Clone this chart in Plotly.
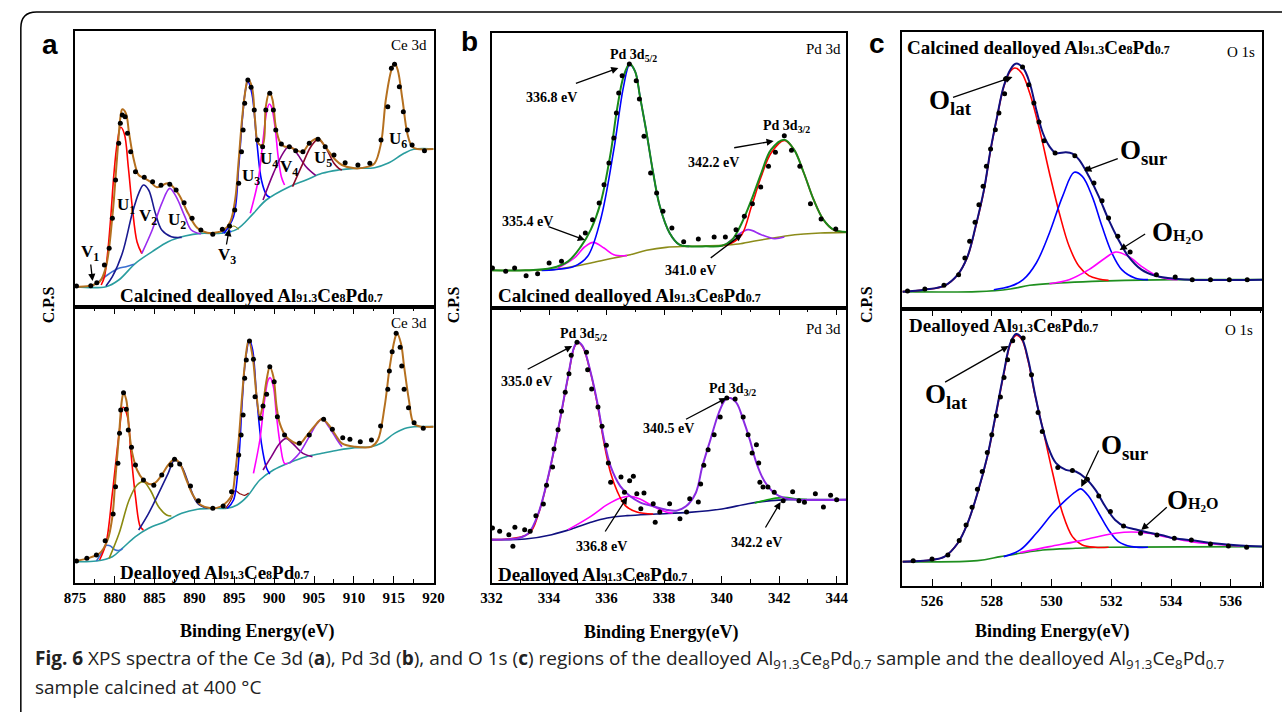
import plotly.graph_objects as go

W, H = 1282, 712
SERIF = "Liberation Serif, Times New Roman, serif"
SANS = "Liberation Sans, Arial, sans-serif"

# ================= DATA (binding energy eV, intensity a.u.) =================
# ---- Panel a, top: calcined dealloyed, Ce 3d ----
A1_DOTS = [(875.2,63),(877.0,64),(877.75,73),(878.7,126),(879.3,176),(879.7,266),(880.1,381),(880.5,491),
           (880.7,551),(880.95,576),(881.3,571),(881.6,521),(882.0,466),(882.6,406),(883.7,389),(884.75,376),
           (885.8,365),(886.9,368),(887.7,351),(888.7,313),(889.7,266),(890.8,231),(892.3,218),(893.5,233),
           (894.4,243),(895.05,291),(895.55,371),(895.9,466),(896.1,531),(896.3,611),(896.7,681),(897.1,659),
           (897.5,591),(897.9,501),(898.55,481),(898.95,591),(899.45,641),(899.9,591),(900.2,531),(900.9,489),
           (901.9,481),(902.7,469),(903.6,466),(904.4,491),(905.5,503),(906.4,481),(907.5,456),(908.9,433),
           (910.5,426),(912.0,431),(913.4,501),(914.25,601),(914.7,716),(915.1,728),(915.7,661),(916.2,586),
           (916.7,531),(917.3,486),(918.85,469)]
A1_ENV = [(875.0,61),(876.85,64),(878.1,76),(878.9,121),(879.7,271),(880.3,451),(880.75,576),(880.95,593),
          (881.4,581),(881.8,521),(882.4,441),(883.0,396),(883.6,388),(884.45,376),(885.3,359),(886.7,371),
          (887.95,341),(889.2,281),(890.4,236),(891.6,223),(892.9,224),(893.7,231),(894.5,256),(895.1,321),
          (895.55,441),(896.0,571),(896.4,651),(896.7,683),(897.2,661),(897.6,561),(898.0,491),(898.55,486),
          (898.95,601),(899.4,646),(899.8,621),(900.2,541),(900.7,496),(901.3,481),(901.9,481),(902.7,471),
          (903.6,466),(904.4,491),(905.5,506),(906.4,481),(907.7,441),(908.5,426),(910.1,416),(911.8,421),
          (912.6,431),(913.4,491),(914.0,621),(914.7,711),(915.1,733),(915.5,711),(916.1,621),(916.7,521),
          (917.3,481),(917.95,474),(920.0,474)]
A1_BKG = [(875.0,61),(878.9,61),(880.5,81),(882.6,131),(884.7,166),(886.7,196),(888.8,213),(890.8,221),
          (893.3,221),(895.3,233),(897.4,281),(899.0,321),(901.9,361),(904.0,381),(906.0,401),(908.1,411),
          (910.1,416),(912.6,418),(914.25,431),(916.3,461),(917.5,473),(920.0,474)]
A1_V1 = [(877.0,64),(877.7,71),(878.3,83),(878.9,93),(879.7,106),(880.5,116),(881.4,121),(882.4,128)]
A1_U1 = [(878.3,66),(878.7,90),(879.1,160),(879.5,270),(879.9,400),(880.3,490),(880.75,539),(881.2,520),
         (881.7,420),(882.2,300),(882.8,195),(883.4,160)]
A1_V2 = [(878.9,63),(879.7,91),(880.95,161),(882.2,281),(883.0,341),(883.6,366),(884.25,351),(885.1,281),
         (885.9,231),(887.1,211),(888.4,209)]
A1_U2 = [(883.4,161),(884.7,231),(885.9,311),(886.9,356),(887.7,331),(888.8,271),(889.6,231),(890.8,219)]
A1_V3A = [(893.5,221),(894.1,236),(894.6,224)]
A1_V3B = [(894.2,228),(894.9,243),(895.55,233)]
A1_U3 = [(893.7,221),(894.9,271),(895.55,421),(896.0,561),(896.4,651),(896.7,676),(897.2,641),(897.8,501),
         (898.4,381),(899.05,336),(899.45,329)]
A1_U4 = [(897.0,281),(898.0,381),(898.6,501),(899.1,591),(899.4,609),(899.65,601),(900.1,541),(900.5,451),
         (900.9,391),(901.3,366)]
A1_V4 = [(898.6,321),(899.9,401),(901.1,461),(901.9,483),(902.7,466),(904.0,421),(905.2,395)]
A1_U5 = [(902.3,361),(903.6,431),(904.6,481),(905.5,503),(906.4,481),(907.5,431),(908.1,416),(908.5,411)]

# ---- Panel a, bottom: dealloyed, Ce 3d ----
A2_DOTS = [(875.2,66),(876.5,74),(877.7,84),(878.8,127),(879.8,207),(880.1,289),(880.4,359),(880.6,449),
           (880.75,519),(881.1,571),(881.45,521),(881.7,459),(882.1,407),(882.6,354),(883.6,309),(884.9,293),
           (885.9,324),(887.05,354),(887.5,371),(888.15,357),(889.5,291),(890.5,247),(892.3,224),(893.6,231),
           (894.65,274),(895.25,329),(895.55,384),(895.85,444),(896.1,504),(896.3,614),(896.5,669),(896.9,726),
           (897.4,671),(897.6,559),(898.3,494),(898.6,531),(899.05,566),(899.45,649),(900.0,604),(900.4,499),
           (901.3,444),(903.15,419),(904.4,444),(906.2,491),(907.3,461),(908.6,436),(909.5,431),(910.8,424),
           (912.2,429),(913.35,471),(914.25,581),(914.45,636),(914.8,694),(915.3,749),(915.8,707),(916.0,651),
           (916.3,581),(916.85,526),(917.55,481),(918.7,464)]
A2_ENV = [(875.0,66),(876.6,74),(878.1,89),(879.1,129),(879.7,199),(880.1,319),(880.55,449),(880.9,549),
          (881.1,569),(881.45,549),(881.8,459),(882.2,389),(882.8,339),(883.6,309),(884.45,296),(885.1,301),
          (885.9,324),(886.7,354),(887.5,371),(888.15,359),(889.0,309),(889.8,264),(890.8,234),(892.1,224),
          (893.3,229),(894.1,244),(894.7,264),(895.1,329),(895.55,429),(896.0,569),(896.4,674),(896.8,729),
          (897.3,679),(897.8,559),(898.2,499),(898.6,539),(899.05,609),(899.45,649),(899.9,619),(900.3,529),
          (900.7,479),(901.5,439),(902.3,424),(903.15,417),(904.0,439),(905.0,469),(906.0,492),(906.85,474),
          (907.7,444),(908.5,419),(910.1,409),(912.2,409),(913.0,429),(913.85,529),(914.5,649),(915.1,729),
          (915.4,749),(915.9,719),(916.3,649),(916.9,549),(917.5,479),(918.4,469),(920.0,469)]
A2_BKG = [(875.0,64),(877.7,66),(879.7,79),(880.95,104),(882.6,139),(884.25,164),(886.3,184),(888.4,209),
          (890.4,221),(892.5,224),(894.1,224),(895.35,234),(896.6,259),(898.2,309),(899.9,339),(901.9,361),
          (904.0,379),(906.0,389),(908.1,399),(910.1,406),(912.2,409),(913.4,419),(915.1,449),(916.7,466),
          (920.0,469)]
A2_V1 = [(877.7,66),(878.4,92),(878.9,112),(879.4,112),(880.0,100),(880.6,98),(881.0,104)]
A2_U1 = [(878.1,69),(878.9,119),(879.7,269),(880.55,449),(881.05,527),(881.6,499),(882.0,399),(882.6,259),
         (883.2,169),(883.6,159)]
A2_V2 = [(879.3,74),(880.55,149),(881.8,249),(882.8,294),(883.6,304),(884.45,279),(885.5,229),(886.5,204),
         (887.1,201)]
A2_U2 = [(883.0,159),(884.25,209),(885.5,269),(886.7,329),(887.5,369),(888.4,349),(889.4,289),(890.4,239),
         (891.65,224)]
A2_V3 = [(893.9,224),(894.6,250),(895.1,277),(895.7,268),(896.3,263),(896.8,270)]
A2_U3 = [(894.1,224),(894.9,249),(895.55,369),(896.0,549),(896.4,669),(896.9,729),(897.3,699),(897.8,559),
         (898.4,419),(899.05,344),(899.45,327)]
A2_U4 = [(897.4,329),(898.2,429),(898.8,549),(899.25,609),(899.5,616),(899.9,589),(900.3,499),(900.8,409),
         (901.3,359),(901.7,359)]
A2_V4 = [(898.6,339),(899.65,379),(900.7,419),(901.5,434),(902.3,419),(903.6,389),(904.8,379)]
A2_U5 = [(901.9,359),(903.15,389),(904.4,439),(905.4,479),(906.0,492),(906.85,469),(907.9,429),(908.5,409)]

# ---- Panel b, top: calcined dealloyed, Pd 3d ----
B1_DOTS = [(332.03,120),(332.49,110),(332.8,120),(333.2,97),(333.6,103),(334.0,135),(334.43,140),(335.26,225),
           (335.51,265),(335.74,315),(335.91,370),(336.08,435),(336.25,510),(336.34,585),(336.42,645),(336.54,697),
           (336.79,732),(337.03,682),(337.14,627),(337.3,515),(337.53,405),(337.74,345),(337.96,290),(338.27,240),
           (338.68,199),(339.19,207),(339.74,213),(340.13,213),(340.5,235),(340.79,275),(341.07,313),(341.36,363),
           (341.63,425),(341.87,467),(342.18,517),(342.43,473),(342.72,425),(343.09,313),(343.46,267),(343.97,237)]
B1_ENV = [(332.0,113),(333.17,113),(334.09,120),(334.66,140),(335.11,185),(335.45,235),(335.79,315),(336.14,465),
          (336.36,595),(336.59,695),(336.8,733),(336.99,710),(337.16,635),(337.39,525),(337.62,405),(337.85,305),
          (338.19,225),(338.53,190),(338.87,185),(339.44,185),(340.01,187),(340.35,203),(340.7,255),(341.04,325),
          (341.38,405),(341.72,475),(342.18,505),(342.52,475),(342.86,405),(343.2,325),(343.54,265),(343.89,235),
          (344.34,228)]
B1_BKG = [(332.0,113),(334.09,115),(334.88,125),(335.57,137),(336.25,150),(336.82,160),(337.39,173),(338.07,182),
          (338.87,185),(340.01,188),(340.58,192),(341.15,201),(341.72,209),(342.29,217),(342.86,222),(343.43,225),
          (344.34,227)]
B1_P368 = [(333.74,113),(334.2,115),(334.88,125),(335.34,155),(335.79,265),(336.25,475),(336.59,665),(336.8,730),
           (336.99,710),(337.16,635),(337.39,525),(337.62,405),(337.85,305),(338.19,225),(338.53,190),(338.87,185)]
B1_P354 = [(334.31,120),(334.88,150),(335.23,183),(335.54,197),(335.91,180),(336.25,160),(336.71,157)]
B1_P422 = [(340.01,187),(340.35,195),(340.7,220),(341.04,305),(341.38,395),(341.72,465),(342.18,503),(342.52,475),
           (342.86,405),(343.2,325),(343.54,265),(343.89,235),(344.34,228)]
B1_P410 = [(340.13,189),(340.58,220),(340.92,235),(341.38,220),(341.83,208),(342.18,213)]

# ---- Panel b, bottom: dealloyed, Pd 3d ----
B2_DOTS = [(332.03,165),(332.28,155),(332.6,145),(332.74,110),(332.81,167),(333.15,160),(333.34,155),(333.54,202),
           (333.8,237),(333.91,293),(334.12,348),(334.17,402),(334.31,460),(334.43,515),(334.56,572),(334.69,628),
           (334.77,683),(334.97,722),(335.3,692),(335.34,640),(335.48,582),(335.7,528),(335.84,470),(335.99,413),
           (336.06,360),(336.14,302),(336.5,318),(336.62,272),(336.8,307),(336.93,320),(337.05,268),(337.19,223),
           (337.3,270),(337.62,238),(337.69,182),(337.85,213),(338.19,238),(338.55,193),(338.78,213),(338.89,253),
           (339.19,243),(339.27,297),(339.38,353),(339.53,400),(339.74,445),(339.95,498),(340.18,555),(340.47,552),
           (340.75,498),(340.92,445),(341.06,390),(341.21,415),(341.29,360),(341.33,302),(341.44,288),(341.61,288),
           (341.83,272),(342.14,247),(342.47,274),(342.69,247),(342.88,242),(343.26,268),(343.54,228),(343.79,263),
           (344.0,250)]
B2_ENV = [(332.0,130),(332.95,135),(333.29,150),(333.63,210),(333.97,320),(334.31,460),(334.66,620),(334.88,710),
          (335.0,723),(335.17,710),(335.45,630),(335.68,540),(335.91,430),(336.14,350),(336.48,290),(336.82,260),
          (337.16,242),(337.62,230),(338.07,220),(338.42,217),(338.76,230),(339.1,270),(339.33,350),(339.61,430),
          (339.9,510),(340.13,550),(340.3,555),(340.52,540),(340.75,490),(340.98,430),(341.21,360),(341.49,305),
          (341.83,270),(342.18,255),(342.63,250),(344.34,250)]
B2_BKG = [(332.0,130),(333.17,132),(334.09,145),(334.88,165),(335.45,182),(336.02,195),(336.71,202),(337.73,207),
          (338.87,212),(340.01,222),(340.92,238),(341.72,247),(342.29,250),(344.34,250)]
B2_P350 = [(332.0,130),(333.29,148),(333.63,208),(333.97,318),(334.31,458),(334.66,618),(334.88,708),(335.0,721),
           (335.17,708),(335.45,628),(335.68,535),(335.91,420),(336.14,330),(336.37,275),(336.65,232),(337.05,213),
           (337.62,207)]
B2_P368 = [(334.66,160),(335.45,200),(336.02,235),(336.48,255),(336.82,260),(337.16,252),(337.62,230),(338.07,213),
           (338.3,210)]
B2_P422 = [(341.15,240),(341.72,252),(342.18,257),(342.63,252),(342.97,250)]

# ---- Panel c, top: calcined dealloyed, O 1s ----
C1_DOTS = [(525.18,54),(525.76,60),(526.4,71),(526.89,103),(527.1,153),(527.26,203),(527.44,260),(527.57,313),
           (527.71,368),(527.82,428),(527.96,480),(528.12,538),(528.24,588),(528.43,646),(528.46,690),(529.03,726),
           (529.24,673),(529.41,618),(529.58,561),(529.75,505),(530.12,468),(530.78,460),(531.2,420),(531.42,378),
           (531.69,325),(531.91,273),(532.22,218),(532.63,171),(533.51,103),(534.14,96),(534.71,88),(535.32,88),
           (535.95,88),(536.55,88)]
C1_ENV = [(525.01,52),(525.76,58),(526.42,70),(526.86,103),(527.19,158),(527.46,248),(527.74,358),(527.96,478),
          (528.18,578),(528.4,668),(528.62,718),(528.8,736),(529.05,723),(529.27,678),(529.49,598),(529.71,528),
          (529.93,488),(530.15,468),(530.48,470),(530.7,466),(530.92,448),(531.25,398),(531.58,338),(531.91,268),
          (532.24,208),(532.57,158),(533.01,118),(533.45,100),(533.89,93),(534.66,88),(537.05,88)]
C1_BKG = [(525.01,52),(527.52,52),(528.62,60),(529.27,71),(530.26,78),(531.36,83),(532.46,86),(534.11,88),(537.05,88)]
C1_LAT = [(525.01,52),(525.76,58),(526.42,70),(526.86,103),(527.19,157),(527.46,246),(527.74,356),(527.96,476),
          (528.18,576),(528.4,666),(528.62,713),(528.77,723),(529.0,708),(529.27,648),(529.6,538),(529.93,408),
          (530.26,288),(530.59,188),(530.92,128),(531.25,100),(531.58,90),(531.91,86)]
C1_SUR = [(528.07,58),(528.62,68),(529.05,88),(529.49,138),(529.93,228),(530.37,338),(530.76,410),(531.03,398),
          (531.36,338),(531.69,248),(532.02,168),(532.35,118),(532.79,93),(533.23,88)]
C1_H2O = [(529.93,76),(530.59,88),(531.25,118),(531.8,153),(532.15,171),(532.57,158),(533.01,128),(533.45,103),
          (533.89,90),(534.22,88)]

# ---- Panel c, bottom: dealloyed, O 1s ----
C2_DOTS = [(525.37,76),(526.0,81),(526.53,93),(526.91,136),(527.14,183),(527.34,236),(527.52,290),(527.68,343),
           (527.85,400),(528.0,453),(528.15,510),(528.29,566),(528.41,625),(528.53,678),(528.7,735),(529.05,743),
           (529.33,633),(529.55,520),(529.69,463),(530.21,355),(530.7,346),(531.2,320),(531.58,270),(531.97,223),
           (532.41,180),(532.98,158),(533.53,153),(534.11,143),(534.68,138),(535.32,126),(535.92,120),(536.53,116)]
C2_ENV = [(525.01,73),(525.98,78),(526.42,88),(526.86,128),(527.19,188),(527.52,278),(527.85,388),(528.12,508),
          (528.4,638),(528.62,728),(528.81,755),(529.0,743),(529.22,678),(529.44,578),(529.66,488),(529.88,418),
          (530.15,368),(530.48,348),(530.81,343),(531.14,323),(531.47,288),(531.8,238),(532.13,198),(532.46,178),
          (532.79,170),(533.23,160),(533.67,153),(534.11,143),(534.77,136),(535.43,128),(536.31,121),(537.05,118)]
C2_BKG = [(525.01,73),(527.52,76),(528.29,88),(528.95,98),(529.71,108),(530.81,113),(531.91,116),(537.05,118)]
C2_LAT = [(525.01,73),(525.98,78),(526.42,88),(526.86,128),(527.19,188),(527.52,277),(527.85,386),(528.12,505),
          (528.4,634),(528.62,724),(528.81,751),(529.0,739),(529.22,673),(529.44,575),(529.71,470),(530.04,338),
          (530.37,218),(530.7,148),(531.03,123),(531.47,116),(531.91,116)]
C2_SUR = [(528.4,88),(528.95,108),(529.49,158),(530.04,218),(530.48,258),(530.81,283),(530.98,291),(531.25,268),
          (531.58,218),(531.91,168),(532.24,133),(532.68,118),(533.23,116)]
C2_H2O = [(528.95,100),(529.93,118),(530.81,133),(531.47,146),(532.13,158),(532.68,162),(533.23,158),(533.89,146),
          (534.66,133),(535.43,126),(536.31,120)]

# axis ranges / ticks
A_RANGE = [875, 920]; A_TICKS = [875, 880, 885, 890, 895, 900, 905, 910, 915, 920]
B_RANGE = [332, 344.34]; B_TICKS = [332, 334, 336, 338, 340, 342, 344]
C_RANGE = [525.01, 537.05]; C_TICKS = [526, 528, 530, 532, 534, 536]

# ================= FIGURE =================
fig = go.Figure()

def px(x):
    return x / W

def py(y):
    return 1 - y / H

def add_line(pts, color, n, width=1.6):
    xs, ys = zip(*pts)
    fig.add_trace(go.Scatter(x=xs, y=ys, mode="lines", line=dict(color=color, width=width, shape="spline", smoothing=1.0),
                             xaxis=f"x{n}", yaxis=f"y{n}", hoverinfo="skip"))

def add_dots(pts, n):
    xs, ys = zip(*pts)
    fig.add_trace(go.Scatter(x=xs, y=ys, mode="markers", marker=dict(color="black", size=5),
                             xaxis=f"x{n}", yaxis=f"y{n}", hoverinfo="skip"))

TEAL = "#2a9d9f"; BROWN = "#b5701f"
# panel a top (1)
add_line(A1_BKG, TEAL, 1)
add_line(A1_V1, "#3a6fd0", 1)
add_line(A1_U1, "#ff0000", 1)
add_line(A1_V2, "#1a1a90", 1)
add_line(A1_U2, "#9a2cf0", 1)
add_line(A1_V3A, "#2040ff", 1, 1.2)
add_line(A1_V3B, "#8a8a10", 1, 1.2)
add_line(A1_U3, "#0000ff", 1)
add_line(A1_U4, "#ff00ff", 1)
add_line(A1_V4, "#800080", 1)
add_line(A1_U5, "#8b0a2a", 1)
add_line(A1_ENV, BROWN, 1, 2)
add_dots(A1_DOTS, 1)
# panel a bottom (2)
add_line(A2_BKG, TEAL, 2)
add_line(A2_V1, "#3a6fd0", 2)
add_line(A2_U1, "#ff0000", 2)
add_line(A2_V2, "#8a8a10", 2)
add_line(A2_U2, "#1a1a90", 2)
add_line(A2_V3, "#8b0a0a", 2, 1.2)
add_line(A2_U3, "#0000ff", 2)
add_line(A2_U4, "#ff00ff", 2)
add_line(A2_V4, "#800080", 2)
add_line(A2_U5, "#9a2cf0", 2)
add_line(A2_ENV, BROWN, 2, 2)
add_dots(A2_DOTS, 2)
# panel b top (3)
add_line(B1_BKG, "#8c8c1a", 3)
add_line(B1_P354, "#ff00ff", 3)
add_line(B1_P368, "#0000ff", 3)
add_line(B1_P410, "#9a2cf0", 3)
add_line(B1_P422, "#ff0000", 3)
add_line(B1_ENV, "#1a8a1a", 3, 2)
add_dots(B1_DOTS, 3)
# panel b bottom (4)
add_line(B2_BKG, "#101080", 4)
add_line(B2_P368, "#ff00ff", 4)
add_line(B2_P422, "#10a010", 4)
add_line(B2_P350, "#ff0000", 4)
add_line(B2_ENV, "#8a2be2", 4, 2)
add_dots(B2_DOTS, 4)
# panel c top (5)
add_line(C1_BKG, "#1f8f1f", 5)
add_line(C1_LAT, "#ff0000", 5)
add_line(C1_SUR, "#0000ff", 5)
add_line(C1_H2O, "#ff00ff", 5)
add_line(C1_ENV, "#101080", 5, 2)
add_dots(C1_DOTS, 5)
# panel c bottom (6)
add_line(C2_BKG, "#1f8f1f", 6)
add_line(C2_LAT, "#ff0000", 6)
add_line(C2_SUR, "#0000ff", 6)
add_line(C2_H2O, "#ff00ff", 6)
add_line(C2_ENV, "#101080", 6, 2)
add_dots(C2_DOTS, 6)

# ---- axes ----
cols = {
    "a": dict(x=[65, 430], rows=[31, 307, 583], rng=A_RANGE, ticks=A_TICKS, minor=2.5, yr=[[0, 828], [0, 828]]),
    "b": dict(x=[489, 850], rows=[33, 308, 583], rng=B_RANGE, ticks=B_TICKS, minor=1, yr=[[0, 825], [0, 825]]),
    "c": dict(x=[907, 1273], rows=[32, 309, 586], rng=C_RANGE, ticks=C_TICKS, minor=1, yr=[[0, 831], [0, 830]]),
}
layout_axes = {}
n = 1
for key in ["a", "b", "c"]:
    c = cols[key]
    xd = [px(c["x"][0]), px(c["x"][1])]
    t, m, b = c["rows"]
    for r in range(2):
        yd = [py(m), py(t)] if r == 0 else [py(b), py(m)]
        xs = "xaxis" if n == 1 else f"xaxis{n}"
        ys = "yaxis" if n == 1 else f"yaxis{n}"
        xa = dict(domain=xd, range=c["rng"], anchor=f"y{n}" if n > 1 else "y", showline=True, linecolor="black",
                  linewidth=1.5, mirror=True, showgrid=False, zeroline=False)
        if r == 0:
            xa.update(showticklabels=False, ticks="")
        else:
            xa.update(tickmode="array", tickvals=c["ticks"], ticks="inside", ticklen=7, tickwidth=1.3,
                      tickcolor="black", mirror="ticks",
                      minor=dict(ticks="inside", ticklen=4, dtick=c["minor"], tickcolor="black", tickwidth=1.2,
                                 showgrid=False),
                      tickfont=dict(family=SERIF, size=15, color="black", weight="bold"))
        ya = dict(domain=yd, range=c["yr"][r], anchor=f"x{n}" if n > 1 else "x", showline=True, linecolor="black",
                  linewidth=1.5, mirror=True, showticklabels=False, ticks="", showgrid=False, zeroline=False)
        layout_axes[xs] = xa
        layout_axes[ys] = ya
        n += 1

# ---- annotations ----
ANN = []

def txt(text, x, y, size=14, bold=True, family=SERIF, xanchor="center", angle=0, color="black"):
    ANN.append(dict(xref="paper", yref="paper", x=px(x), y=py(y), text=text, showarrow=False, xanchor=xanchor,
                    yanchor="middle", textangle=angle,
                    font=dict(family=family, size=size, color=color, weight="bold" if bold else "normal")))

def arrow(tail, head):
    ANN.append(dict(xref="paper", yref="paper", x=px(head[0]), y=py(head[1]), ax=tail[0] - head[0],
                    ay=tail[1] - head[1], axref="pixel", ayref="pixel", text="", showarrow=True, arrowhead=2,
                    arrowsize=1.1, arrowwidth=1.3, arrowcolor="black", standoff=0))

S = "<span style='font-size:12px'>"
E_ = "</span>"
CALC = f"Calcined dealloyed Al{S}91.3{E_}Ce{S}8{E_}Pd{S}0.7{E_}"
DEAL = f"Dealloyed Al{S}91.3{E_}Ce{S}8{E_}Pd{S}0.7{E_}"

# panel letters
txt("a", 40, 45, 28, True, SANS)
txt("b", 466, 42, 28, True, SANS)
txt("c", 881, 43, 28, True, SANS)

# panel a
txt("Ce 3d", 425, 45, 15, False, xanchor="right")
txt("Ce 3d", 425, 323, 15, False, xanchor="right")
for lab, x, y in [("U<sub>1</sub>", 117, 206), ("V<sub>2</sub>", 139, 217), ("U<sub>2</sub>", 169, 221),
                  ("V<sub>1</sub>", 80, 253), ("V<sub>3</sub>", 220, 256), ("U<sub>3</sub>", 244, 177),
                  ("U<sub>4</sub>", 263, 160), ("V<sub>4</sub>", 283, 168), ("U<sub>5</sub>", 317, 159),
                  ("U<sub>6</sub>", 394, 140)]:
    txt(lab, x, y, 17)
arrow((81, 263), (83, 281))
arrow((219, 246), (222, 229))
txt(CALC, 109, 295, 19, xanchor="left")
txt(DEAL, 109, 572, 19, xanchor="left")

# panel b
txt("Pd 3d", 847, 49, 15, False, xanchor="right")
txt("Pd 3d", 847, 329, 15, False, xanchor="right")
txt("Pd 3d<sub>5/2</sub>", 633, 55, 14)
txt("336.8 eV", 550, 97, 14)
arrow((574, 84), (618, 68))
txt("Pd 3d<sub>3/2</sub>", 789, 127, 14)
txt("342.2 eV", 715, 163, 14)
arrow((735, 148), (776, 141))
txt("335.4 eV", 526, 221, 14)
arrow((546, 226), (584, 240))
txt("341.0 eV", 691, 270, 14)
arrow((711, 259), (744, 234))
txt(CALC, 493, 295, 19, xanchor="left")
txt("Pd 3d<sub>5/2</sub>", 582, 334, 14)
txt("335.0 eV", 525, 381, 14)
arrow((525, 370), (571, 346))
txt("Pd 3d<sub>3/2</sub>", 734, 389, 14)
txt("340.5 eV", 669, 429, 14)
arrow((686, 420), (728, 398))
txt("336.8 eV", 601, 546, 14)
arrow((604, 533), (627, 497))
txt("342.2 eV", 759, 542, 14)
arrow((767, 529), (783, 502))
txt(DEAL, 493, 574, 19, xanchor="left")

# panel c
txt(CALC, 910, 47, 19, xanchor="left")
txt("O 1s", 1268, 52, 15, False, xanchor="right")
txt("O<sub>lat</sub>", 932, 102, 27, xanchor="left")
arrow((958, 98), (1019, 77))
txt("O<sub>sur</sub>", 1126, 152, 27, xanchor="left")
arrow((1127, 158), (1092, 171))
txt("O<span style='font-size:16px'>H<sub>2</sub>O</span>", 1159, 232, 27, xanchor="left")
arrow((1155, 233), (1128, 250))
txt(DEAL, 912, 325, 19, xanchor="left")
txt("O 1s", 1266, 330, 15, False, xanchor="right")
txt("O<sub>lat</sub>", 928, 396, 27, xanchor="left")
arrow((950, 383), (1015, 346))
txt("O<sub>sur</sub>", 1107, 447, 27, xanchor="left")
arrow((1107, 449), (1089, 487))
txt("O<span style='font-size:16px'>H<sub>2</sub>O</span>", 1174, 500, 27, xanchor="left")
arrow((1177, 506), (1150, 530))

# axis titles
for x in (38, 450, 870):
    txt("C.P.S", x, 305, 16, angle=-90)
for x, y in ((251, 631), (662, 632), (1060, 631)):
    txt("Binding Energy(eV)", x, y, 18)

# caption
CAP_FONT = "Open Sans, Lato, sans-serif"
cap1 = ("<b>Fig. 6</b> XPS spectra of the Ce 3d (<b>a</b>), Pd 3d (<b>b</b>), and O 1s (<b>c</b>) regions of the "
        "dealloyed Al<sub>91.3</sub>Ce<sub>8</sub>Pd<sub>0.7</sub> sample and the dealloyed "
        "Al<sub>91.3</sub>Ce<sub>8</sub>Pd<sub>0.7</sub>")
cap2 = "sample calcined at 400 °C"
txt(cap1, 22, 659, 19, False, CAP_FONT, xanchor="left", color="#222222")
txt(cap2, 22, 687, 19, False, CAP_FONT, xanchor="left", color="#222222")

border = (f"M {px(10)},{py(730)} L {px(10)},{py(28)} Q {px(10)},{py(12)} {px(26)},{py(12)} "
          f"L {px(1300)},{py(12)}")

fig.update_layout(
    width=W, height=H, margin=dict(l=0, r=0, t=0, b=0), paper_bgcolor="white", plot_bgcolor="white",
    showlegend=False, annotations=ANN,
    shapes=[dict(type="path", xref="paper", yref="paper", path=border, line=dict(color="black", width=1.5))],
    **layout_axes,
)

fig.write_html("out.html")
